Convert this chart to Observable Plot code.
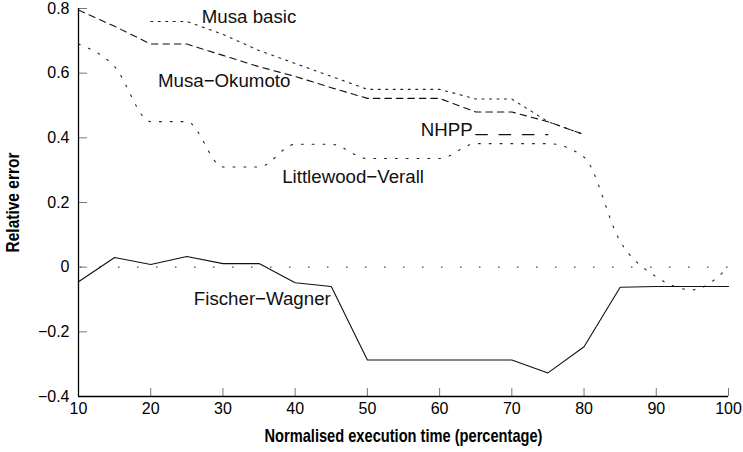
<!DOCTYPE html>
<html><head><meta charset="utf-8">
<script src="https://cdn.jsdelivr.net/npm/d3@7"></script>
<script src="https://cdn.jsdelivr.net/npm/@observablehq/plot@0.6"></script>
<style>
html,body{margin:0;padding:0;background:#fff;}
</style></head><body><div id="chart"></div>
<script>
// x positions (normalised execution time, %)
const xMusaBasic = [20,25,30,35,40,45,50,55,60,65,70,75,80];
const yMusaBasic = [0.76,0.76,0.72,0.67,0.63,0.59,0.55,0.55,0.55,0.52,0.52,0.45,0.41];

const xMusaOkumoto = [10,15,20,25,30,35,40,45,50,55,60,65,70,75,80];
const yMusaOkumoto = [0.795,0.745,0.69,0.69,0.655,0.62,0.59,0.555,0.522,0.522,0.522,0.48,0.48,0.45,0.41];

const xNHPP = [65,70,75];
const yNHPP = [0.41,0.41,0.41];

const xLittlewood = [10,15,20,25,30,35,40,45,50,55,60,65,70,75,80,85,90,95,100];
const yLittlewood = [0.69,0.62,0.45,0.45,0.31,0.31,0.38,0.38,0.336,0.336,0.336,0.382,0.382,0.382,0.34,0.08,-0.03,-0.07,0.0];

const xFischer = [10,15,20,25,30,35,40,45,50,55,60,65,70,75,80,85,90,95,100];
const yFischer = [-0.045,0.03,0.008,0.033,0.011,0.011,-0.048,-0.06,-0.287,-0.287,-0.287,-0.287,-0.287,-0.327,-0.246,-0.062,-0.06,-0.06,-0.06];

// series labels
const labelNames = ["Musa basic","Musa\u2212Okumoto","NHPP","Littlewood\u2212Verall","Fischer\u2212Wagner"];
const labelX = [27.07,21.0,57.4,38.2,25.97];
const labelY = [0.774,0.575,0.423,0.279,-0.100];

// ticks
const xTicks = [10,20,30,40,50,60,70,80,90,100];
const xTickLabels = ["10","20","30","40","50","60","70","80","90","100"];
const yTicks = [-0.4,-0.2,0,0.2,0.4,0.6,0.8];
const yTickLabels = ["\u22120.4","\u22120.2","0","0.2","0.4","0.6","0.8"];

const xTitle = "Normalised execution time (percentage)";
const yTitle = "Relative error";

const toRows = (xs, ys) => xs.map((x, i) => ({x, y: ys[i]}));
const musaBasic = toRows(xMusaBasic, yMusaBasic);
const musaOkumoto = toRows(xMusaOkumoto, yMusaOkumoto);
const nhpp = toRows(xNHPP, yNHPP);
const littlewood = toRows(xLittlewood, yLittlewood);
const fischer = toRows(xFischer, yFischer);
const labels = labelNames.map((t, i) => ({t, x: labelX[i], y: labelY[i]}));

const titleFont = "'Liberation Sans', Arial, sans-serif";

const chart = Plot.plot({
  width: 743,
  height: 452,
  marginLeft: 78,
  marginRight: 15,
  marginTop: 8,
  marginBottom: 56,
  style: {fontFamily: "'Liberation Sans', Arial, Helvetica, sans-serif", fontSize: "16px", color: "#000", background: "#fff"},
  x: {domain: [10, 100]},
  y: {domain: [-0.4, 0.8]},
  marks: [
    Plot.ruleY([0], {stroke: "#444", strokeWidth: 1.2, strokeDasharray: "1.5,17.5", strokeDashoffset: 17}),
    Plot.line(musaBasic, {x: "x", y: "y", stroke: "#222", strokeWidth: 1.1, strokeDasharray: "2,5.5"}),
    Plot.line(musaOkumoto, {x: "x", y: "y", stroke: "#111", strokeWidth: 1.1, strokeDasharray: "6.5,5"}),
    Plot.line(nhpp, {x: "x", y: "y", stroke: "#111", strokeWidth: 1.2, strokeDasharray: "11.7,11.6"}),
    Plot.line(littlewood, {x: "x", y: "y", stroke: "#222", strokeWidth: 1.1, strokeDasharray: "1.8,9", curve: "monotone-x"}),
    Plot.line(fischer, {x: "x", y: "y", stroke: "#111", strokeWidth: 1.1}),
    Plot.text(labels, {x: "x", y: "y", text: "t", textAnchor: "start", lineAnchor: "middle", fontSize: 18.7, fill: "#111"}),
    Plot.axisX({ticks: xTicks, tickSize: -8, tickFormat: () => "", stroke: "#777", label: null}),
    Plot.axisX({ticks: xTicks, tickSize: 0, tickPadding: 6, tickFormat: d => xTickLabels[xTicks.indexOf(d)], label: null, fontSize: 16}),
    Plot.axisY({ticks: yTicks, tickSize: -9, tickFormat: () => "", stroke: "#777", label: null}),
    Plot.axisY({ticks: yTicks, tickSize: 0, tickPadding: 9, tickFormat: d => yTickLabels[yTicks.findIndex(v => Math.abs(v - d) < 1e-9)], label: null, fontSize: 16}),
    Plot.ruleX([10], {stroke: "#000", strokeWidth: 1.3}),
    Plot.ruleY([-0.4], {stroke: "#000", strokeWidth: 1.3}),
    Plot.text([xTitle], {text: d => d, frameAnchor: "bottom", textAnchor: "middle", lineAnchor: "bottom", dy: 45.5, fontWeight: "bold", fontSize: 18.5, fontFamily: titleFont, fill: "#000"}),
    Plot.text([yTitle], {text: d => d, frameAnchor: "left", textAnchor: "middle", lineAnchor: "top", rotate: -90, dx: -72, fontWeight: "bold", fontSize: 17.5, fontFamily: titleFont, fill: "#000"})
  ]
});
d3.select(chart).selectAll("text").each(function() {
  const t = this.textContent;
  if (t === xTitle) d3.select(this).attr("textLength", 278).attr("lengthAdjust", "spacingAndGlyphs");
  if (t === yTitle) d3.select(this).attr("textLength", 100).attr("lengthAdjust", "spacingAndGlyphs");
});
document.getElementById("chart").appendChild(chart);
</script>
</body></html>
